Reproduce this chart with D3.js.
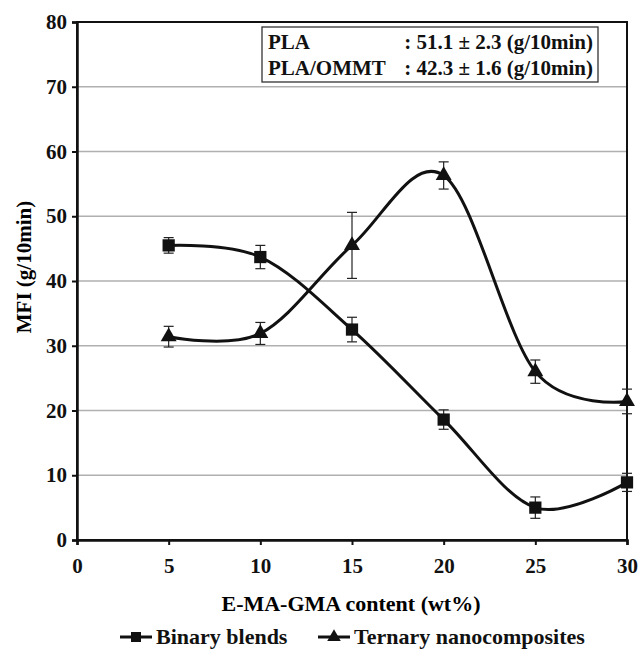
<!DOCTYPE html>
<html>
<head>
<meta charset="utf-8">
<script src="https://cdn.jsdelivr.net/npm/d3@7"></script>
<style>
  body { margin: 0; background: #fff; }
</style>
</head>
<body>
<div id="chart"></div>
<script>
!(function(){
    "use strict"

    // data
    var content = [5, 10, 15, 20, 25, 30]
    var binary = [45.5, 43.7, 32.5, 18.6, 5.0, 8.9]
    var binaryErr = [1.2, 1.8, 1.9, 1.5, 1.65, 1.4]
    var ternary = [31.4, 31.9, 45.5, 56.3, 26.0, 21.4]
    var ternaryErr = [1.6, 1.7, 5.1, 2.1, 1.8, 1.9]
    var xTicks = [0, 5, 10, 15, 20, 25, 30]
    var yTicks = [0, 10, 20, 30, 40, 50, 60, 70, 80]
    var seriesNames = ["Binary blends", "Ternary nanocomposites"]
    var noteLabels = ["PLA", "PLA/OMMT"]
    var noteValues = [": 51.1 \u00b1 2.3 (g/10min)", ": 42.3 \u00b1 1.6 (g/10min)"]

    var FONT = "'Liberation Serif', 'Times New Roman', serif"

    var width = 639, height = 649
    var margin = {top:22, left:77, bottom:109, right:12}
    var chartWidth = width - margin.left - margin.right
    var chartHeight = height - margin.top - margin.bottom

    var svg = d3.select("#chart").append("svg")
        .attr("width", width).attr("height", height)
        .attr("font-family", FONT).attr("font-weight", "bold")
    var chartLayer = svg.append("g")
        .attr("transform", "translate(" + [margin.left, margin.top] + ")")

    var x = d3.scaleLinear().domain([0, 30]).range([0, chartWidth])
    var y = d3.scaleLinear().domain([0, 80]).range([chartHeight, 0])

    // gridlines
    chartLayer.append("g").selectAll("line")
        .data(yTicks.filter(function(d){ return d > 0 && d < 80 }))
        .enter().append("line")
        .attr("x1", 0).attr("x2", chartWidth)
        .attr("y1", y).attr("y2", y)
        .attr("stroke", "#b0b0b0").attr("stroke-width", 1.3)

    // frame
    chartLayer.append("rect")
        .attr("width", chartWidth).attr("height", chartHeight)
        .attr("fill", "none").attr("stroke", "#111").attr("stroke-width", 2)

    var yAxis = chartLayer.append("g")
        .call(d3.axisLeft(y).tickValues(yTicks).tickSize(5).tickPadding(5))
    var xAxis = chartLayer.append("g")
        .attr("transform", "translate(0," + chartHeight + ")")
        .call(d3.axisBottom(x).tickValues(xTicks).tickSize(5).tickPadding(13))
    ;[yAxis, xAxis].forEach(function(a) {
        a.attr("font-family", FONT).attr("font-size", 21)
        a.select(".domain").attr("stroke", "#111").attr("stroke-width", 2.5)
        a.selectAll(".tick line").attr("stroke", "#111").attr("stroke-width", 2)
        a.selectAll("text").attr("fill", "#111").attr("font-weight", "bold")
    })

    // axis titles
    svg.append("text")
        .attr("x", 351).attr("y", 611)
        .attr("text-anchor", "middle").attr("font-size", 22)
        .text("E-MA-GMA content (wt%)")
    svg.append("text")
        .attr("transform", "translate(31,267) rotate(-90)")
        .attr("text-anchor", "middle").attr("font-size", 21)
        .text("MFI (g/10min)")

    var line = d3.line()
        .x(function(d){ return x(d.x) })
        .y(function(d){ return y(d.y) })
        .curve(d3.curveCardinal.tension(0))

    var series = [
        {name: seriesNames[0], vals: binary, err: binaryErr, shape: d3.symbolSquare},
        {name: seriesNames[1], vals: ternary, err: ternaryErr, shape: d3.symbolTriangle}
    ]

    series.forEach(function(s) {
        var pts = content.map(function(c, i) { return {x: c, y: s.vals[i], e: s.err[i]} })
        var g = chartLayer.append("g")

        var eb = g.selectAll(".err").data(pts).enter().append("g")
        eb.append("line")
            .attr("x1", function(d){ return x(d.x) }).attr("x2", function(d){ return x(d.x) })
            .attr("y1", function(d){ return y(d.y - d.e) }).attr("y2", function(d){ return y(d.y + d.e) })
        eb.append("line")
            .attr("x1", function(d){ return x(d.x) - 5 }).attr("x2", function(d){ return x(d.x) + 5 })
            .attr("y1", function(d){ return y(d.y + d.e) }).attr("y2", function(d){ return y(d.y + d.e) })
        eb.append("line")
            .attr("x1", function(d){ return x(d.x) - 5 }).attr("x2", function(d){ return x(d.x) + 5 })
            .attr("y1", function(d){ return y(d.y - d.e) }).attr("y2", function(d){ return y(d.y - d.e) })
        eb.selectAll("line").attr("stroke", "#222").attr("stroke-width", 1.2)

        g.append("path").datum(pts)
            .attr("d", line)
            .attr("fill", "none").attr("stroke", "#111").attr("stroke-width", 3)

        g.selectAll(".mark").data(pts).enter().append("path")
            .attr("transform", function(d){ return "translate(" + [x(d.x), y(d.y)] + ")" })
            .attr("d", d3.symbol().type(s.shape).size(s.shape === d3.symbolSquare ? 150 : 110))
            .attr("fill", "#111")
    })

    // note box
    var note = svg.append("g").attr("transform", "translate(262,27)")
    note.append("rect").attr("width", 336).attr("height", 55)
        .attr("fill", "#fff").attr("stroke", "#333").attr("stroke-width", 1.3)
    note.selectAll(".lab").data(noteLabels).enter().append("text")
        .attr("x", 6).attr("y", function(d, i){ return 22 + i * 26 })
        .attr("font-size", 21).attr("fill", "#111").text(function(d){ return d })
    note.selectAll(".val").data(noteValues).enter().append("text")
        .attr("x", 331).attr("y", function(d, i){ return 22 + i * 26 })
        .attr("text-anchor", "end")
        .attr("font-size", 21).attr("fill", "#111").text(function(d){ return d })

    // legend
    var legendX = [120, 318]
    var legend = svg.append("g").selectAll("g").data(series).enter().append("g")
        .attr("transform", function(d, i){ return "translate(" + [legendX[i], 637] + ")" })
    legend.append("line").attr("x1", 0).attr("x2", 32)
        .attr("stroke", "#111").attr("stroke-width", 3)
    legend.append("path").attr("transform", "translate(16,0)")
        .attr("d", function(d){ return d3.symbol().type(d.shape).size(d.shape === d3.symbolSquare ? 100 : 80)() })
        .attr("fill", "#111")
    legend.append("text").attr("x", 36).attr("y", 7)
        .attr("font-size", 22).attr("fill", "#111").text(function(d){ return d.name })
}());
</script>
</body>
</html>
